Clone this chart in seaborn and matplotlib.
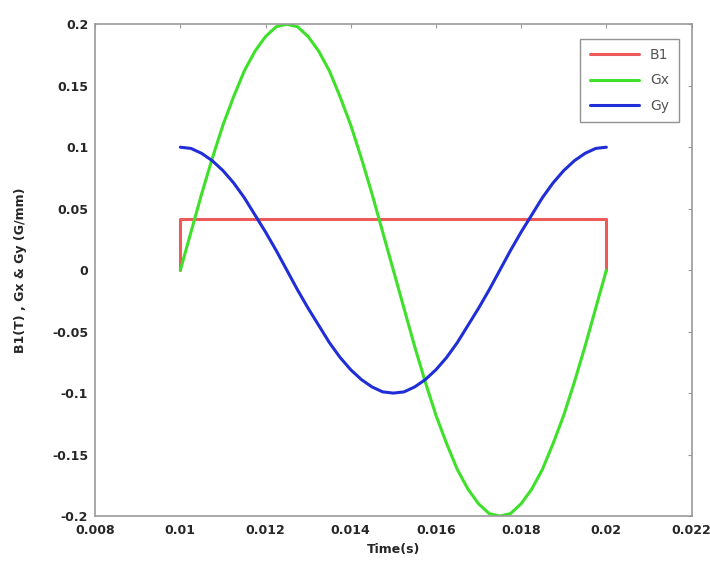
import numpy as np
import pandas as pd
import seaborn as sns
from matplotlib import pyplot as plt

# time samples (s), every 0.25 ms
t = [0.01, 0.01025, 0.0105, 0.01075, 0.011, 0.01125, 0.0115, 0.01175,
     0.012, 0.01225, 0.0125, 0.01275, 0.013, 0.01325, 0.0135, 0.01375,
     0.014, 0.01425, 0.0145, 0.01475, 0.015, 0.01525, 0.0155, 0.01575,
     0.016, 0.01625, 0.0165, 0.01675, 0.017, 0.01725, 0.0175, 0.01775,
     0.018, 0.01825, 0.0185, 0.01875, 0.019, 0.01925, 0.0195, 0.01975, 0.02]

gx = [0.0, 0.031, 0.062, 0.091, 0.118, 0.141, 0.162, 0.178, 0.190, 0.198,
      0.200, 0.198, 0.190, 0.178, 0.162, 0.141, 0.118, 0.091, 0.062, 0.031,
      0.0, -0.031, -0.062, -0.091, -0.118, -0.141, -0.162, -0.178, -0.190,
      -0.198, -0.200, -0.198, -0.190, -0.178, -0.162, -0.141, -0.118, -0.091,
      -0.062, -0.031, 0.0]

gy = [0.100, 0.099, 0.095, 0.089, 0.081, 0.071, 0.059, 0.045, 0.031, 0.016,
      0.0, -0.016, -0.031, -0.045, -0.059, -0.071, -0.081, -0.089, -0.095,
      -0.099, -0.100, -0.099, -0.095, -0.089, -0.081, -0.071, -0.059, -0.045,
      -0.031, -0.016, 0.0, 0.016, 0.031, 0.045, 0.059, 0.071, 0.081, 0.089,
      0.095, 0.099, 0.100]

# RF pulse: a flat block between 10 ms and 20 ms
t_b1 = [0.01, 0.01, 0.02, 0.02]
b1 = [0.0, 0.042, 0.042, 0.0]

x_ticks = [0.008, 0.01, 0.012, 0.014, 0.016, 0.018, 0.02, 0.022]
x_labels = ["0.008", "0.01", "0.012", "0.014", "0.016", "0.018", "0.02", "0.022"]
y_ticks = [-0.2, -0.15, -0.1, -0.05, 0, 0.05, 0.1, 0.15, 0.2]
y_labels = ["-0.2", "-0.15", "-0.1", "-0.05", "0", "0.05", "0.1", "0.15", "0.2"]

df = pd.concat([
    pd.DataFrame({"time": t_b1, "value": b1, "signal": "B1"}),
    pd.DataFrame({"time": t, "value": gx, "signal": "Gx"}),
    pd.DataFrame({"time": t, "value": gy, "signal": "Gy"}),
], ignore_index=True)

sns.set_style("white")
plt.rcParams["xtick.direction"] = "in"
plt.rcParams["ytick.direction"] = "in"

fig = plt.figure(figsize=(7.1, 5.64), dpi=100)
ax = fig.add_axes([0.134, 0.085, 0.84, 0.872])

palette = {"B1": "#ec5a5a", "Gx": "#3ee02a", "Gy": "#1f2ed6"}
sns.lineplot(data=df, x="time", y="value", hue="signal", estimator=None,
             sort=False, palette=palette, linewidth=2.2, ax=ax)

ax.set_xlim(0.008, 0.022)
ax.set_ylim(-0.2, 0.2)
ax.set_xticks(x_ticks)
ax.set_xticklabels(x_labels, fontweight="bold", fontsize=9)
ax.set_yticks(y_ticks)
ax.set_yticklabels(y_labels, fontweight="bold", fontsize=9)
ax.tick_params(length=3, color="#999999", top=True, right=True)
ax.tick_params(axis="x", pad=6)
ax.tick_params(axis="y", pad=5)
for s in ax.spines.values():
    s.set_color("#9a9a9a")
    s.set_linewidth(1.2)

ax.set_xlabel("Time(s)", fontweight="bold", fontsize=9, labelpad=4)
ax.set_ylabel("B1(T) , Gx & Gy (G/mm)", fontweight="bold", fontsize=9, labelpad=18)

handles, labels = ax.get_legend_handles_labels()
leg = ax.legend(handles, labels, loc="upper right", bbox_to_anchor=(0.99, 0.985),
                fancybox=False, edgecolor="#777777", fontsize=10,
                handlelength=3.5, labelspacing=0.8, borderpad=0.7)
for txt in leg.get_texts():
    txt.set_color("#555555")

plt.savefig("out.png", dpi=100)
